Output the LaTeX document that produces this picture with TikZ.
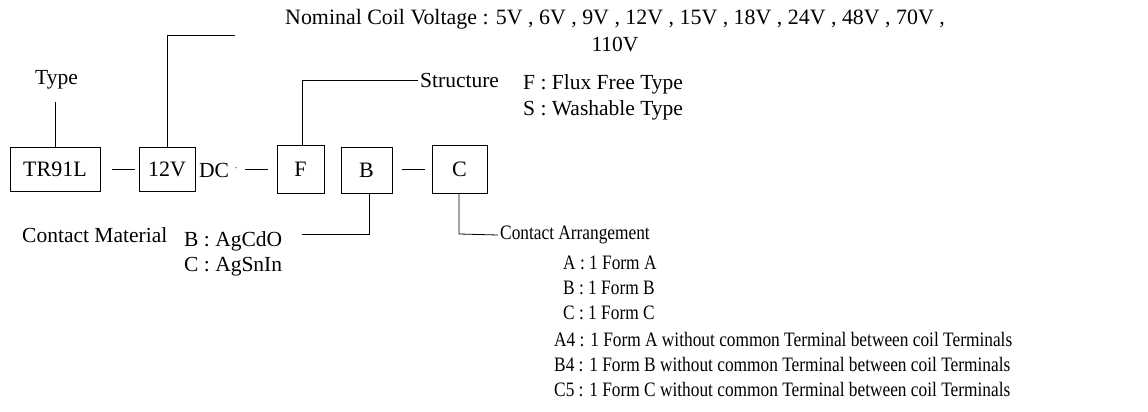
\documentclass[tikz,border=0pt]{standalone}
\usepackage{fontspec}
\setmainfont{Liberation Serif}
\newfontfamily\condserif[FakeStretch=0.845]{Liberation Serif}
\begin{document}
\begin{tikzpicture}[x=1pt,y=-1pt,
  lbl/.style={inner sep=0pt,anchor=west,font=\fontsize{21.5}{24}\selectfont},
  sm/.style={inner sep=0pt,anchor=west,font=\condserif\fontsize{20.5}{22}\selectfont},
  part/.style={draw,line width=0.8pt,inner sep=0pt,font=\fontsize{22}{24}\selectfont},
  wire/.style={line width=0.8pt}]
\useasboundingbox (0,0) rectangle (1148,412);
% boxes
\node[part,minimum width=90pt,minimum height=44pt] (tr) at (55,169) {TR91L};
\node[part,minimum width=56pt,minimum height=44pt] (v) at (167,169) {12V};
\node[part,minimum width=47pt,minimum height=48pt] (f) at (300.5,169) {F};
\node[part,minimum width=51pt,minimum height=46pt] (b) at (366.5,170) {B};
\node[part,minimum width=55pt,minimum height=48pt] (c) at (459.5,169) {C};
\node[lbl] (dc) at (199,170) {DC};
\node[inner sep=0pt] (dot) at (236,170) {\fontsize{10}{10}\selectfont ·};
% dashes
\coordinate (d1a) at (112,169); \coordinate (d1b) at (135,169);
\coordinate (d2a) at (245,169); \coordinate (d2b) at (268,169);
\coordinate (d3a) at (402,169); \coordinate (d3b) at (425,169);
\draw[wire] (d1a) -- (d1b);
\draw[wire] (d2a) -- (d2b);
\draw[wire] (d3a) -- (d3b);
% labels
\node[lbl] (type) at (35,80) {Type};
\node[lbl,font=\fontsize{21.9}{24}\selectfont] (nom) at (285,19) {Nominal Coil Voltage : 5V , 6V , 9V , 12V , 15V , 18V , 24V , 48V , 70V ,};
\node[lbl,anchor=center] (nom2) at (615,45) {110V};
\node[lbl] (str) at (420,80) {Structure};
\node[lbl] (ff) at (523,84) {F : Flux Free Type};
\node[lbl] (ws) at (523,110) {S : Washable Type};
\node[lbl] (cm) at (22,235) {Contact Material};
\node[lbl] (ag1) at (184,241) {B : AgCdO};
\node[lbl] (ag2) at (184,267) {C : AgSnIn};
\node[sm] (ca) at (500,235) {Contact Arrangement};
\node[sm] (l1) at (563,263) {A : 1 Form A};
\node[sm] (l2) at (563,288) {B : 1 Form B};
\node[sm] (l3) at (563,313) {C : 1 Form C};
\node[sm] (l4) at (554,340) {A4 : 1 Form A without common Terminal between coil Terminals};
\node[sm] (l5) at (554,365) {B4 : 1 Form B without common Terminal between coil Terminals};
\node[sm] (l6) at (554,390) {C5 : 1 Form C without common Terminal between coil Terminals};
% connectors
\coordinate (typeb) at (55,102);
\coordinate (nomend) at (235,35);
\coordinate (strc) at (302,80);
\coordinate (bc) at (369,234);
\coordinate (bend) at (302,234);
\coordinate (cc) at (459,234);
\draw[wire] (typeb) -- (typeb |- tr.north);
\draw[wire] (v.north) -- (v.north |- nomend) -- (nomend);
\draw[wire] (strc |- f.north) -- (strc) -- ([xshift=-2pt]str.west);
\draw[wire] (bc |- b.south) -- (bc) -- (bend);
\draw[wire] (cc |- c.south) -- (cc) -- ([xshift=-2pt]ca.west);
\end{tikzpicture}
\end{document}
